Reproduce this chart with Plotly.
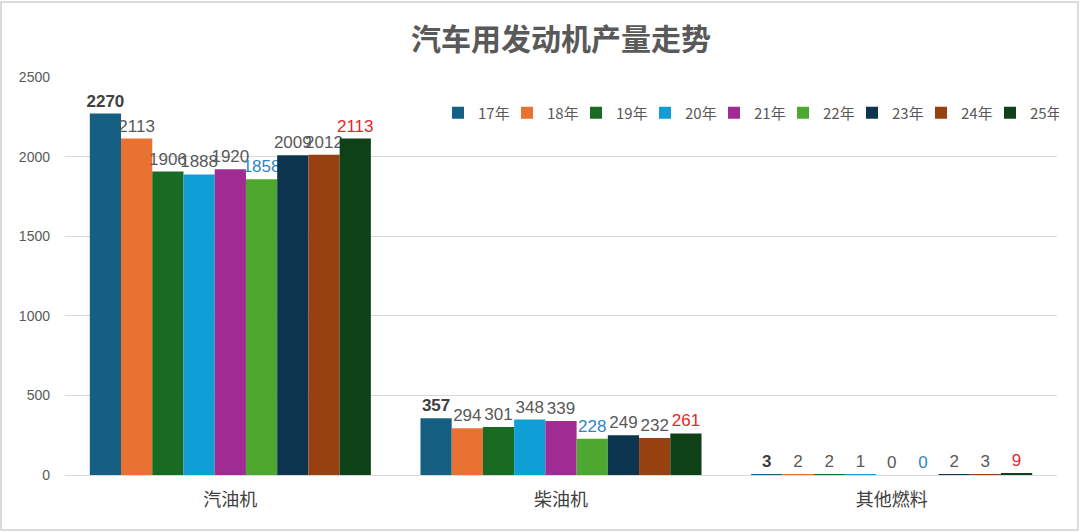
import plotly.graph_objects as go

categories = ["汽油机", "柴油机", "其他燃料"]
years = ["17年", "18年", "19年", "20年", "21年", "22年", "23年", "24年", "25年"]
values = {
    "17年": [2270, 357, 3],
    "18年": [2113, 294, 2],
    "19年": [1906, 301, 2],
    "20年": [1888, 348, 1],
    "21年": [1920, 339, 0],
    "22年": [1858, 228, 0],
    "23年": [2009, 249, 2],
    "24年": [2012, 232, 3],
    "25年": [2113, 261, 9],
}
colors = ["#156082", "#E97132", "#196B24", "#0F9ED5", "#A02B93",
          "#4EA72E", "#0E3550", "#974010", "#0F4119"]
label_colors = ["#404040", "#595959", "#595959", "#595959", "#595959",
                "#2E86C1", "#595959", "#595959", "#E8262B"]

FONT = "Noto Sans CJK SC"
NUMFONT = "Liberation Sans"
fig = go.Figure()
for i, y in enumerate(years):
    txt = [(f"<b>{v}</b>" if i == 0 else str(v)) for v in values[y]]
    fig.add_trace(go.Bar(
        name=y, x=categories, y=values[y], marker_color=colors[i],
        marker_line_width=0,
        text=txt, textposition="outside", constraintext="none", cliponaxis=False,
        textfont=dict(family=NUMFONT, size=17, color=label_colors[i]),
    ))

fig.update_layout(
    width=1080, height=532,
    barmode="group", bargap=0.15, bargroupgap=0,
    paper_bgcolor="white", plot_bgcolor="white",
    margin=dict(l=65, r=23, t=77, b=57, autoexpand=False),
    title=dict(text="<b>汽车用发动机产量走势</b>", x=0.5, xanchor="center", xref="paper",
               y=1 - 39 / 532, yref="container", yanchor="middle",
               font=dict(family=FONT, size=30, color="#595959")),
    legend=dict(orientation="h", xref="container", yref="container",
                x=438 / 1080, xanchor="left", y=1 - 113 / 532, yanchor="middle",
                font=dict(family=FONT, size=15, color="#595959"),
                itemwidth=30, entrywidth=24, entrywidthmode="pixels",
                traceorder="normal", bgcolor="rgba(0,0,0,0)"),
    font=dict(family=FONT, color="#595959"),
    showlegend=True,
)
fig.update_yaxes(range=[0, 2500], dtick=500, showgrid=True, gridcolor="#D9D9D9",
                 gridwidth=1, zeroline=False, showline=False,
                 tickfont=dict(family=NUMFONT, size=14, color="#595959"),
                 ticklabelstandoff=14, automargin=False)
fig.update_xaxes(showline=True, linecolor="#D9D9D9", linewidth=1,
                 tickfont=dict(family=FONT, size=18, color="#404040"),
                 ticks="", ticklabelstandoff=8, automargin=False)
fig.add_shape(type="rect", xref="paper", yref="paper",
              x0=-64 / 992, x1=1 + 21 / 992, y0=-55 / 398, y1=1 + 75 / 398,
              line=dict(color="#D0D0D0", width=1.5), fillcolor="rgba(0,0,0,0)", layer="below")
fig.write_html("out.html", config={"displayModeBar": False},
               post_script="document.body.style.margin='0';")
